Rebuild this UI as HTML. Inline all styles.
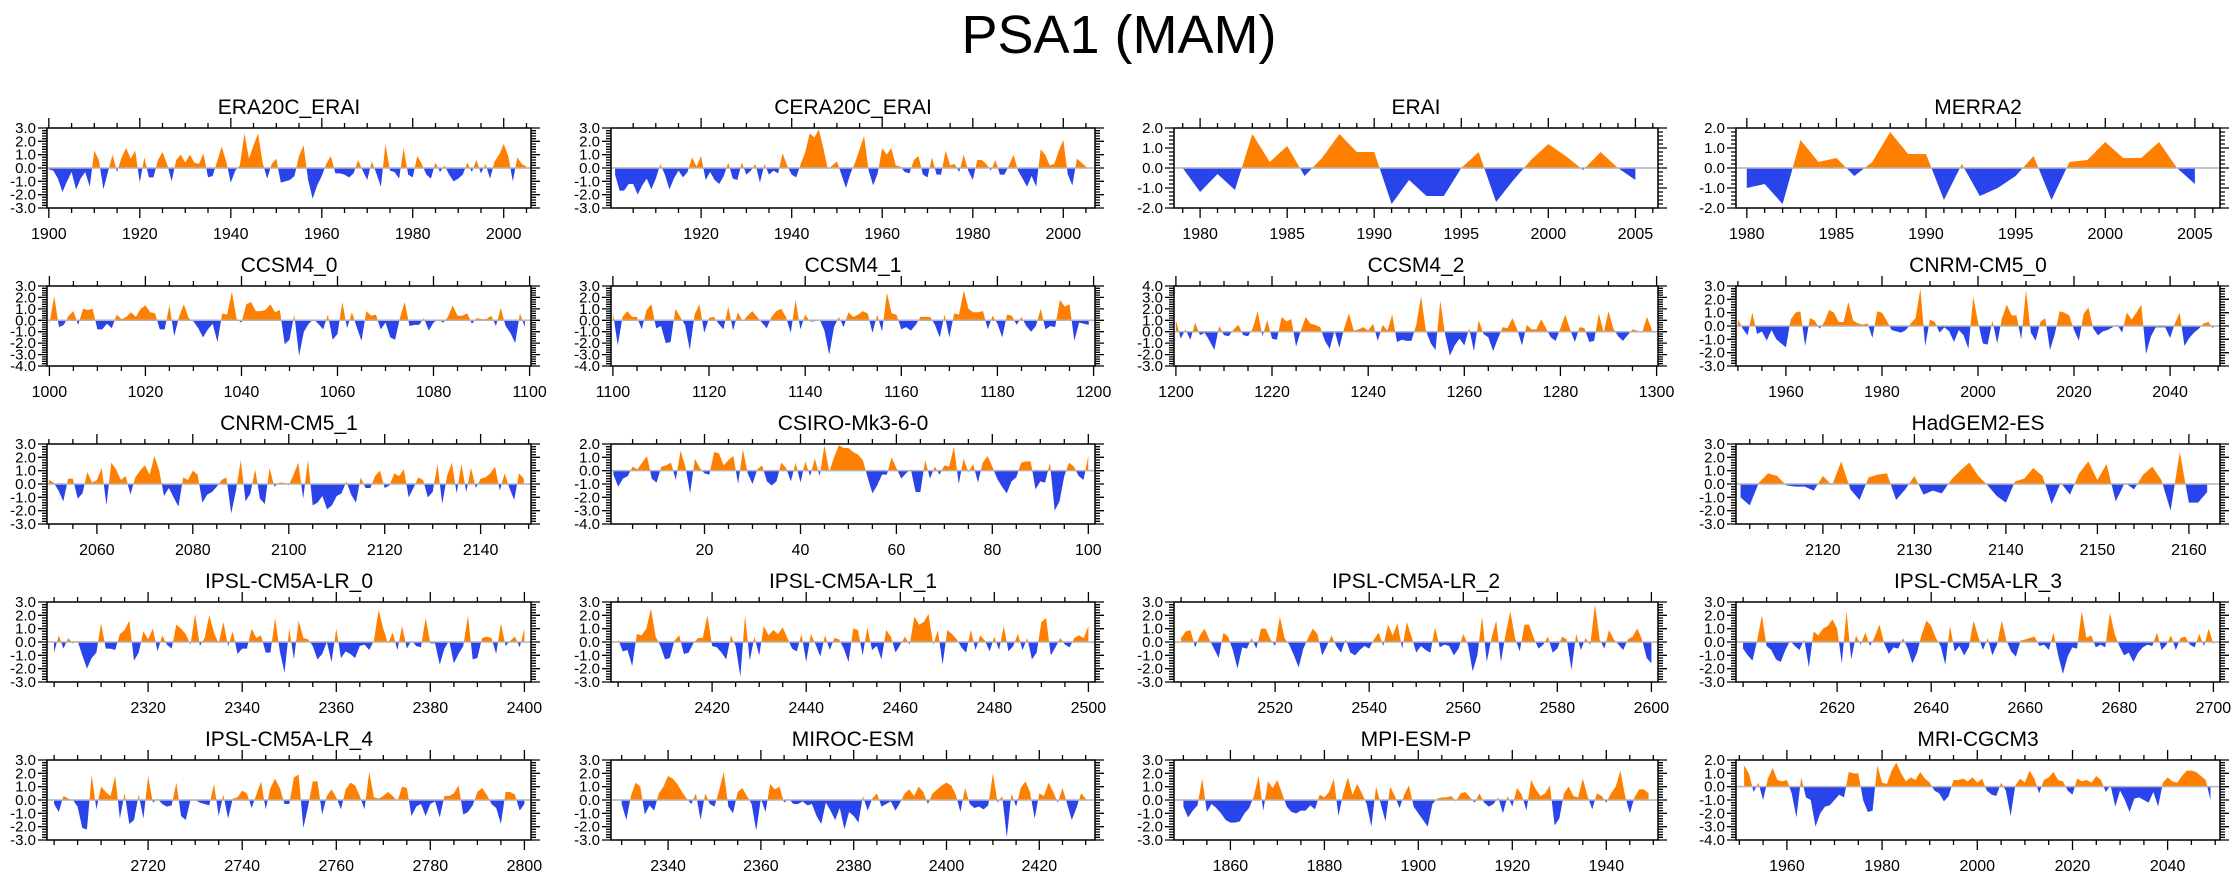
<!DOCTYPE html>
<html><head><meta charset="utf-8"><title>PSA1 (MAM)</title>
<style>
html,body{margin:0;padding:0;background:#fff;}
svg{display:block;font-family:"Liberation Sans",Arial,sans-serif;}
</style></head>
<body>
<svg id="chart" width="2238" height="877" viewBox="0 0 2238 877" xmlns="http://www.w3.org/2000/svg">
<rect width="2238" height="877" fill="#fff"/>
<text x="1119" y="53" font-size="54" text-anchor="middle" fill="#000">PSA1 (MAM)</text>
<g id="panels"></g>
</svg>
<script>
// ---- data (PSA1 index values per year) ----
const vERA20C=[-0.1,-0.2,-0.8,-1.8,-1.0,-0.3,-1.6,-0.8,-0.3,-1.4,1.3,0.6,-1.6,-0.3,1.0,-0.3,0.8,1.5,0.7,1.3,-1.1,0.8,-0.7,-0.7,0.6,1.2,0.3,-1.0,0.6,1.0,0.4,1.0,0.4,0.3,1.1,-0.7,-0.6,0.5,1.6,0.5,-1.1,-0.2,0.2,2.6,0.7,1.7,2.6,0.4,-0.8,0.3,0.7,-1.1,-1.0,-0.9,-0.6,0.9,1.7,-0.9,-2.3,-1.3,-0.6,0.3,0.9,-0.4,-0.4,-0.5,-0.7,-0.4,0.6,-0.2,-0.9,0.5,-0.4,-1.4,1.8,-0.2,-0.3,-0.8,1.5,-0.5,-0.7,0.9,0.3,-0.5,-0.8,0.4,-0.3,0.2,-0.5,-1.0,-0.8,-0.5,0.4,-0.3,0.6,-0.4,0.3,-0.8,0.5,1.0,1.8,0.9,-1.0,0.8,0.3,0.1];
const vCERA20C=[-0.5,-1.7,-1.7,-1.2,-1.2,-2.0,-1.3,-0.8,-1.6,-0.8,0.3,-0.5,-1.6,-0.8,-0.2,-0.7,-0.3,0.8,0.1,0.9,-0.9,-0.3,-0.9,-1.2,-0.6,0.4,-0.8,-0.9,0.4,-0.5,-0.2,0.3,-1.1,0.3,-0.5,-0.2,-0.4,1.1,0.2,-0.5,-0.7,0.3,1.2,2.6,2.3,2.9,1.5,-0.1,0.2,0.5,-0.5,-1.5,-0.4,0.4,1.4,2.4,-0.2,-1.3,-0.4,1.5,1.0,1.5,0.2,0.1,-0.3,-0.4,0.6,0.9,-0.5,-0.7,0.8,-0.5,-0.5,1.3,0.2,0.3,-0.3,1.0,-0.2,-0.9,0.6,0.6,0.3,-0.2,0.6,-0.5,-0.5,0.2,1.0,-0.2,-0.8,-1.4,-0.6,-1.4,1.4,1.0,0.2,0.3,1.3,2.1,-0.5,-1.3,0.7,0.4,0.1];
const vERAI=[0.0,-1.2,-0.3,-1.1,1.7,0.3,1.1,-0.4,0.5,1.7,0.8,0.8,-1.8,-0.6,-1.4,-1.4,0.0,0.8,-1.7,-0.6,0.4,1.2,0.6,-0.1,0.8,0.0,-0.6];
const vMERRA2=[-1.0,-0.8,-1.8,1.4,0.3,0.5,-0.4,0.3,1.8,0.7,0.7,-1.6,0.2,-1.4,-1.0,-0.4,0.6,-1.6,0.3,0.4,1.3,0.5,0.5,1.3,0.0,-0.8];
const vCCSM4_0=[-0.3,2.1,-0.6,-0.4,0.4,0.8,-0.4,1.0,0.9,1.0,-0.8,-0.8,-0.3,-0.7,0.5,0.1,0.3,0.7,0.3,1.0,1.3,0.7,0.6,-0.8,-0.8,1.3,-1.4,0.3,1.4,0.2,-0.1,-0.7,-1.5,-0.8,-0.3,-1.9,0.6,0.5,2.5,0.1,-0.2,1.4,1.6,0.8,0.8,0.9,1.4,0.7,0.9,-2.1,-1.7,0.5,-3.1,-1.0,-0.3,0.1,-0.3,-0.8,0.5,-1.7,-1.2,1.6,-0.7,0.7,-0.6,-1.8,0.8,0.4,0.5,-0.8,-0.2,-1.5,-1.7,0.2,1.6,-0.5,-0.4,-0.4,0.2,-0.9,-0.2,0.1,-0.2,0.3,1.3,0.4,0.4,0.6,-0.3,0.2,0.1,0.1,0.4,-0.5,1.1,-0.5,-1.1,-2.0,0.6,-0.6];
const vCCSM4_1=[0.7,-2.2,0.3,0.8,0.3,0.3,-0.8,0.9,1.4,-0.7,-0.5,-2.0,-1.9,1.0,0.3,-0.4,-2.6,0.5,1.4,-1.1,0.2,0.3,-0.3,-0.8,1.2,-0.9,0.7,-0.1,0.4,0.8,0.3,-0.2,-0.7,0.3,0.8,1.0,0.3,-1.1,1.8,-0.8,0.5,-0.1,-0.1,0.1,-0.9,-3.0,-0.6,0.3,-0.6,0.7,0.3,0.5,0.8,0.6,-1.1,0.5,-1.0,2.4,0.6,0.5,-0.8,-0.6,-0.9,-0.4,0.3,0.3,0.3,-0.4,-1.5,0.5,-1.5,0.6,0.5,2.6,1.0,0.7,0.7,0.8,-0.8,0.4,-0.3,-1.5,0.5,0.4,-0.4,0.3,-0.5,-1.0,-0.5,1.0,-0.8,-0.5,-0.6,1.8,1.2,1.4,-1.8,-0.2,-0.3,-0.4];
const vCCSM4_2=[1.0,-0.6,0.2,-0.7,0.8,-0.3,-0.1,-0.8,-1.6,0.5,-0.3,-0.4,0.2,0.6,-0.3,-0.4,0.3,1.8,-0.4,1.0,-0.6,-0.7,1.3,0.9,1.1,-1.3,0.1,1.3,0.7,0.6,0.4,-0.8,-1.5,0.1,-1.4,0.3,1.6,0.1,0.2,0.4,0.1,0.7,-0.8,0.6,0.1,1.5,-0.9,-0.7,-0.8,-0.8,0.6,3.1,0.1,-1.0,-1.6,2.7,-0.2,-2.1,-1.2,-0.6,-1.2,0.3,-1.7,1.0,-0.2,-0.5,-1.7,-0.6,0.4,0.3,1.2,0.2,-1.2,0.6,0.2,0.2,1.1,0.3,-0.5,-0.8,0.3,1.5,0.2,-0.9,0.4,0.3,-0.9,-0.8,1.6,-0.1,1.8,0.3,-0.4,-0.8,-0.3,0.2,0.1,-0.1,1.3,0.2];
const vCNRM0=[0.5,-0.2,-0.7,1.0,-0.6,-0.4,-1.1,-0.3,-1.0,-1.3,-1.6,0.5,1.0,1.1,-1.5,0.6,0.4,-0.2,0.3,1.2,1.0,0.3,0.3,1.8,0.4,0.2,0.1,0.2,-0.9,1.1,1.0,0.4,-0.3,-0.4,-0.5,-0.3,0.2,0.6,2.8,-1.5,0.5,0.3,-0.5,-0.1,-0.4,-1.2,-0.3,-0.7,-1.7,2.2,0.3,-1.3,-1.4,0.4,-1.3,0.6,1.6,0.8,0.8,-1.0,2.7,-0.5,-1.1,0.3,0.6,-1.8,-0.6,1.1,1.0,0.8,-0.3,-1.1,0.9,1.4,-0.2,-0.7,-0.4,-0.3,-0.1,0.1,-0.5,1.0,0.5,1.0,1.6,-2.1,-0.8,-0.1,-0.1,-0.1,-0.9,0.2,1.0,-1.5,-0.9,-0.5,-0.2,0.2,0.3,-0.2];
const vCNRM1=[0.3,0.1,-0.5,-1.3,0.4,0.4,-1.1,-0.7,0.9,0.1,0.3,1.2,-1.6,1.6,1.1,0.3,0.6,-0.8,0.5,1.0,1.4,0.7,2.1,1.0,-0.9,-0.3,-1.0,-1.7,0.5,0.3,1.0,0.7,-1.4,-0.8,-0.6,-0.2,0.3,0.5,-2.2,-0.5,1.8,-1.3,-0.7,1.1,-1.1,-1.5,1.2,-0.2,0.1,0.1,-0.1,0.7,1.6,-1.1,1.8,-1.6,-1.4,-0.9,-1.9,-1.6,-0.9,-0.7,0.2,-0.8,-1.4,0.5,-0.3,-0.3,0.6,1.0,-0.3,-0.1,0.8,0.6,1.1,-1.0,-0.3,0.5,0.3,-1.0,-0.6,1.5,-1.5,0.6,1.6,-0.7,1.5,-0.6,1.2,-0.3,0.4,0.5,0.8,1.3,-0.5,0.8,-0.3,-1.2,0.8,0.4];
const vCSIRO=[-0.3,-1.2,-0.6,-0.4,0.3,0.1,0.6,1.1,-0.6,-0.9,0.3,0.4,0.6,-0.7,1.5,0.3,-1.7,0.9,0.2,-0.2,-0.3,1.4,1.3,0.4,0.8,1.1,-1.0,1.6,-0.2,-1.0,0.1,0.4,-0.8,-1.1,-0.8,0.6,0.2,-0.8,0.6,-0.9,0.7,-0.4,0.9,-0.4,1.9,-0.1,1.0,1.9,1.7,1.7,1.4,1.2,0.8,-0.5,-1.7,-1.1,-0.3,-0.3,1.0,0.2,-0.6,-0.2,0.1,-1.6,-1.6,0.8,-0.6,0.3,-0.3,0.4,0.3,1.8,-1.0,0.9,-0.1,0.5,-0.9,0.6,1.1,0.3,-0.6,-1.2,-1.7,-0.8,-0.5,0.6,0.7,0.7,-1.4,-0.8,-0.9,0.6,-3.0,-2.3,-0.4,0.6,0.3,-0.4,-0.7,1.1];
const vHadGEM=[-1.0,-1.6,0.1,0.8,0.6,-0.1,-0.2,-0.2,-0.5,0.6,-0.1,1.7,-0.4,-1.2,0.5,0.7,0.8,-1.2,-0.4,0.6,-0.8,-0.5,-0.7,0.3,1.0,1.6,0.6,-0.1,-0.9,-1.4,0.2,0.4,1.2,0.6,-1.5,0.1,-0.8,0.8,1.7,0.3,1.5,-1.3,0.1,-0.4,0.7,1.3,0.3,-2.0,2.4,-1.4,-1.4,-0.6];
const vIPSL0=[-0.8,0.5,-0.5,0.3,-0.1,0.1,-1.0,-2.0,-1.2,-0.8,1.4,-0.5,-0.5,-0.6,0.6,0.9,1.6,-1.4,-0.8,0.8,0.2,1.0,-0.7,0.5,-0.2,-0.5,1.3,1.0,0.6,-0.2,2.1,-0.3,0.3,2.0,0.7,-0.1,1.5,-0.3,0.8,-0.9,-0.5,-0.5,1.0,0.3,0.5,-0.8,-0.8,1.8,-0.7,-2.3,1.0,-1.3,1.6,0.3,0.2,-0.3,-1.3,-0.9,0.0,-1.5,1.0,-1.2,-0.7,-0.9,-1.2,-0.3,-0.2,-0.6,0.1,2.4,1.0,-0.1,0.7,-0.6,1.2,-0.5,0.1,-0.3,-0.4,1.8,-0.1,-0.1,-1.7,-0.5,0.1,-1.6,-0.9,-0.3,2.0,-1.3,-1.2,0.3,0.4,0.3,-0.9,1.4,-0.3,0.1,0.4,-0.4,1.0];
const vIPSL1=[0.2,-0.7,-0.6,-1.8,0.6,0.5,1.0,2.5,0.4,-0.3,-1.3,-1.2,0.1,0.5,-0.9,-0.8,-0.1,0.3,0.3,2.0,-0.3,-0.4,-0.8,-1.3,0.5,-0.3,-2.6,2.0,-1.4,0.4,-1.0,1.2,0.5,0.9,0.6,1.1,0.3,-0.5,-0.7,0.6,-1.5,0.6,-0.2,-1.1,0.5,-0.6,0.3,0.2,-0.5,-1.5,1.0,0.9,-1.0,1.1,-0.6,-0.3,-1.3,0.9,0.4,-0.8,-0.2,0.4,-0.2,1.9,1.3,1.5,2.1,-0.2,0.9,-1.7,0.9,0.6,0.2,-0.4,-0.8,0.9,-0.6,0.5,0.1,-0.7,0.4,-0.6,1.2,-0.7,-0.3,0.6,-0.6,0.3,-1.3,-0.8,1.5,1.8,-1.0,-0.4,0.3,-0.2,-0.4,0.3,0.5,0.3,1.2];
const vIPSL2=[0.3,0.8,0.9,-0.4,0.5,1.0,0.2,-0.5,-1.2,0.7,0.4,-0.6,-2.0,-0.4,-0.5,0.3,-0.5,1.0,1.0,0.2,-0.3,1.9,0.3,-0.2,-1.0,-1.9,-0.5,0.3,1.0,0.6,-1.0,-0.3,0.5,-0.3,-0.8,0.2,-0.8,-1.0,-0.6,-0.3,-0.5,0.2,0.7,-0.3,1.3,0.5,1.4,-0.5,1.5,0.4,-0.8,-0.3,-0.6,-0.8,1.1,-0.4,-0.2,-0.3,-1.0,-0.5,0.6,-0.2,-2.2,-1.0,1.9,-1.5,0.3,1.6,-1.5,0.6,2.3,0.3,-0.7,1.3,1.3,0.3,-0.5,-0.2,0.4,-0.8,-0.5,0.4,0.2,-2.1,0.6,-0.6,0.3,-0.2,2.8,0.2,-0.5,0.9,0.2,-0.2,-0.6,0.2,0.4,1.0,0.2,-1.2,-1.6];
const vIPSL3=[-0.5,-1.0,-1.4,0.1,2.0,-0.3,-0.6,-1.3,-1.5,-0.6,0.1,-0.3,-0.6,0.2,-1.9,0.8,0.5,1.0,1.2,1.7,1.0,-1.6,2.3,-1.3,0.5,-0.2,0.7,-0.3,0.4,1.3,-0.1,-0.9,-0.4,-0.5,0.3,-0.5,-1.6,-0.8,0.6,1.6,1.2,0.3,-0.3,-1.7,1.2,-0.7,-0.3,-1.0,-0.4,1.6,0.4,-0.6,0.3,-1.0,-0.2,1.6,0.1,-0.7,-1.1,0.1,0.2,0.3,0.4,-0.3,-0.2,-0.6,0.7,-1.0,-2.4,-1.1,-0.4,-0.5,2.3,0.3,0.5,-0.4,-0.2,-0.4,2.2,0.6,-0.3,-1.0,-0.8,-1.5,-0.8,-0.4,-0.2,-0.3,0.7,-0.6,-0.2,0.5,-0.6,0.3,0.4,-0.2,-0.4,0.6,-0.3,1.0,-0.2];
const vIPSL4=[-0.3,-0.9,0.3,0.1,0.0,-0.5,-2.1,-2.2,1.9,-0.7,1.0,0.6,0.3,1.8,-1.4,0.5,-1.8,-1.5,0.4,-1.4,1.8,-0.2,0.1,-0.3,-0.5,-0.4,1.3,-1.2,-1.5,0.0,0.0,-0.2,-0.3,-0.4,1.2,-1.2,0.4,-1.4,0.1,0.2,0.7,0.5,-0.6,0.4,1.4,-0.7,0.9,1.6,0.9,-0.3,-0.3,1.7,1.9,-2.1,-0.5,1.4,1.4,-1.1,0.3,0.8,0.2,-0.7,0.8,1.3,1.1,0.3,-0.7,2.1,0.2,0.1,0.3,0.6,0.3,-0.1,1.0,0.9,-1.2,-0.5,-0.3,-1.2,-0.3,-0.1,-1.3,0.3,0.3,0.5,1.1,-1.1,-0.9,-0.4,0.6,0.9,0.4,-0.3,-0.6,-1.8,0.6,0.6,0.4,-0.8,-0.3];
const vMIROC=[-0.3,-1.5,0.3,1.3,1.0,-1.1,-0.4,-0.8,0.5,1.0,1.8,1.6,1.2,0.6,0.1,-0.3,0.5,-1.5,0.5,-0.3,-0.5,0.7,2.1,-0.5,-1.0,0.6,0.9,0.3,-0.3,-2.3,0.1,-0.9,1.2,0.8,1.0,-0.2,0.1,-0.3,-0.3,-0.1,-0.4,-0.3,-1.2,-1.8,-0.2,-0.8,-1.5,-0.6,-2.2,-0.9,-1.2,-1.7,0.3,-0.8,0.1,0.5,-0.5,-0.3,-0.1,-0.8,-0.2,0.5,0.8,0.3,1.0,0.6,-0.3,0.5,0.8,1.1,1.3,1.1,0.4,-0.9,0.9,-0.3,-0.6,-0.5,-0.7,-0.4,2.0,-0.2,0.3,-2.8,0.5,-0.5,0.9,1.4,0.6,-1.4,0.5,0.3,1.3,0.6,-0.2,0.9,-0.3,-1.5,-0.6,0.5,0.1];
const vMPI=[-0.5,-1.3,-0.8,-0.4,1.6,-0.9,-0.3,-0.6,-1.0,-1.5,-1.7,-1.7,-1.6,-1.0,-0.6,0.3,1.8,-0.8,1.4,0.9,1.5,0.5,-0.5,-0.9,-1.0,-0.8,-0.8,-0.4,-0.7,0.4,0.2,0.6,1.6,-1.2,0.5,1.7,0.4,1.2,0.5,-0.3,-2.0,1.0,-0.3,-1.6,1.0,0.3,-0.6,0.4,1.1,-0.5,-1.0,-1.5,-2.0,-0.3,0.1,0.2,0.2,0.3,-0.1,0.5,0.6,0.2,-0.2,0.5,-0.2,-0.5,-0.3,0.2,-1.0,0.3,-0.5,0.9,0.4,-0.8,1.5,0.8,0.3,0.5,1.1,-1.9,-1.4,0.5,1.0,0.3,0.2,1.6,0.3,-0.7,0.5,0.3,-0.2,0.5,1.0,2.2,0.3,-1.0,0.2,0.8,0.8,0.5];
const vMRI=[1.6,1.0,-0.4,0.3,-1.0,0.6,1.4,0.5,0.4,0.5,-0.5,-2.3,0.7,-0.8,-1.0,-3.0,-2.0,-1.5,-1.4,-1.0,-0.6,-0.8,1.1,1.0,1.0,-1.0,-1.9,-1.8,1.6,0.3,0.2,1.2,1.8,1.0,0.4,0.7,0.5,1.1,0.6,0.3,-0.3,-0.5,-1.1,-0.7,0.5,0.5,0.6,0.4,0.7,0.3,0.6,-0.3,-0.6,-0.7,0.3,-0.3,-2.2,0.1,0.6,0.3,1.2,0.6,-0.5,0.5,0.7,1.1,0.5,0.4,-0.3,-0.6,0.6,0.4,0.5,0.3,0.8,0.5,-0.4,0.1,-1.5,-0.3,-1.0,-1.9,-0.9,-0.8,-1.0,-1.2,-0.4,-1.5,0.3,0.7,0.4,0.3,0.8,1.2,1.2,1.1,0.8,0.5,-1.0];

// tick label arrays
const tk20a=[1900,1920,1940,1960,1980,2000];
const tk20b=[1920,1940,1960,1980,2000];
const tk5=[1980,1985,1990,1995,2000,2005];

const panels=[
 {id:'era20c-erai',title:'ERA20C_ERAI',c:0,r:0,x0:1899.6,x1:2006,y0:-3,y1:3,start:1900,v:vERA20C,lab:tk20a,mn:5},
 {id:'cera20c-erai',title:'CERA20C_ERAI',c:1,r:0,x0:1900.1,x1:2007,y0:-3,y1:3,start:1901,v:vCERA20C,lab:tk20b,mn:5},
 {id:'erai',title:'ERAI',c:2,r:0,x0:1978.5,x1:2006.3,y0:-2,y1:2,start:1979,v:vERAI,lab:tk5,mn:1},
 {id:'merra2',title:'MERRA2',c:3,r:0,x0:1979.4,x1:2006.4,y0:-2,y1:2,start:1980,v:vMERRA2,lab:tk5,mn:1},
 {id:'ccsm4-0',title:'CCSM4_0',c:0,r:1,x0:999.5,x1:1100.3,y0:-4,y1:3,start:1000,v:vCCSM4_0,lab:[1000,1020,1040,1060,1080,1100],mn:5},
 {id:'ccsm4-1',title:'CCSM4_1',c:1,r:1,x0:1099.6,x1:1200.3,y0:-4,y1:3,start:1100,v:vCCSM4_1,lab:[1100,1120,1140,1160,1180,1200],mn:5},
 {id:'ccsm4-2',title:'CCSM4_2',c:2,r:1,x0:1199.6,x1:1300.3,y0:-3,y1:4,start:1200,v:vCCSM4_2,lab:[1200,1220,1240,1260,1280,1300],mn:5},
 {id:'cnrm-cm5-0',title:'CNRM-CM5_0',c:3,r:1,x0:1949.6,x1:2050.4,y0:-3,y1:3,start:1950,v:vCNRM0,lab:[1960,1980,2000,2020,2040],mn:5},
 {id:'cnrm-cm5-1',title:'CNRM-CM5_1',c:0,r:2,x0:2049.6,x1:2150.5,y0:-3,y1:3,start:2050,v:vCNRM1,lab:[2060,2080,2100,2120,2140],mn:5},
 {id:'csiro-mk3-6-0',title:'CSIRO-Mk3-6-0',c:1,r:2,x0:0.5,x1:101.4,y0:-4,y1:2,start:1,v:vCSIRO,lab:[20,40,60,80,100],mn:5},
 {id:'hadgem2-es',title:'HadGEM2-ES',c:3,r:2,x0:2110.5,x1:2163.4,y0:-3,y1:3,start:2111,v:vHadGEM,lab:[2120,2130,2140,2150,2160],mn:2},
 {id:'ipsl-cm5a-lr-0',title:'IPSL-CM5A-LR_0',c:0,r:3,x0:2298.5,x1:2401.4,y0:-3,y1:3,start:2300,v:vIPSL0,lab:[2320,2340,2360,2380,2400],mn:5},
 {id:'ipsl-cm5a-lr-1',title:'IPSL-CM5A-LR_1',c:1,r:3,x0:2398.5,x1:2501.4,y0:-3,y1:3,start:2400,v:vIPSL1,lab:[2420,2440,2460,2480,2500],mn:5},
 {id:'ipsl-cm5a-lr-2',title:'IPSL-CM5A-LR_2',c:2,r:3,x0:2498.5,x1:2601.4,y0:-3,y1:3,start:2500,v:vIPSL2,lab:[2520,2540,2560,2580,2600],mn:5},
 {id:'ipsl-cm5a-lr-3',title:'IPSL-CM5A-LR_3',c:3,r:3,x0:2598.5,x1:2701.4,y0:-3,y1:3,start:2600,v:vIPSL3,lab:[2620,2640,2660,2680,2700],mn:5},
 {id:'ipsl-cm5a-lr-4',title:'IPSL-CM5A-LR_4',c:0,r:4,x0:2698.5,x1:2801.4,y0:-3,y1:3,start:2700,v:vIPSL4,lab:[2720,2740,2760,2780,2800],mn:5},
 {id:'miroc-esm',title:'MIROC-ESM',c:1,r:4,x0:2327.7,x1:2432,y0:-3,y1:3,start:2330,v:vMIROC,lab:[2340,2360,2380,2400,2420],mn:5},
 {id:'mpi-esm-p',title:'MPI-ESM-P',c:2,r:4,x0:1848,x1:1951,y0:-3,y1:3,start:1850,v:vMPI,lab:[1860,1880,1900,1920,1940],mn:5},
 {id:'mri-cgcm3',title:'MRI-CGCM3',c:3,r:4,x0:1949.3,x1:2051,y0:-4,y1:2,start:1951,v:vMRI,lab:[1960,1980,2000,2020,2040],mn:5}
];

const colX=[47,611,1174,1736], rowY=[128,286,444,602,760], PW=484, PH=80;
const NS='http://www.w3.org/2000/svg';
const root=document.getElementById('panels');
function mk(tag,attrs,parent){const e=document.createElementNS(NS,tag);for(const k in attrs)e.setAttribute(k,attrs[k]);(parent||root).appendChild(e);return e;}

panels.forEach((p,pi)=>{
  const L=colX[p.c], T=rowY[p.r], R=L+PW, B=T+PH;
  const sx=x=>L+(x-p.x0)/(p.x1-p.x0)*PW;
  const sy=y=>T+(p.y1-y)/(p.y1-p.y0)*PH;
  const g=mk('g',{});
  
  
  const t=mk('text',{x:(L+R)/2,y:T-14,'font-size':21,'text-anchor':'middle',fill:'#000'},g);
  t.textContent=p.title;
  
  
  const defs=mk('defs',{},g);
  const z=sy(0);
  const cu=mk('clipPath',{id:'cu'+pi},defs); mk('rect',{x:L,y:T,width:PW,height:z-T},cu);
  const cd=mk('clipPath',{id:'cd'+pi},defs); mk('rect',{x:L,y:z,width:PW,height:B-z},cd);
  let d='M'+sx(p.start).toFixed(2)+','+z.toFixed(2);
  p.v.forEach((val,i)=>{d+=' L'+sx(p.start+i).toFixed(2)+','+sy(val).toFixed(2);});
  d+=' L'+sx(p.start+p.v.length-1).toFixed(2)+','+z.toFixed(2)+' Z';
  const up=mk('path',{d:d,fill:'#ff8000','clip-path':'url(#cu'+pi+')'},g);
  
  
  const dn=mk('path',{d:d,fill:'#2a44ec','clip-path':'url(#cd'+pi+')'},g);
  
  
  const zl=mk('line',{x1:L,x2:R,y1:z,y2:z,stroke:'#b4b4b4','stroke-width':1.5},g);
  
  
  const fr=mk('rect',{x:L,y:T,width:PW,height:PH,fill:'none',stroke:'#000','stroke-width':1.5},g);
  
  
  let tp='';
  const first=Math.ceil(p.x0/p.mn)*p.mn;
  for(let x=first;x<=p.x1;x+=p.mn){
    const X=sx(x).toFixed(1); const major=p.lab.indexOf(x)>=0; const len=major?10:5;
    tp+='M'+X+','+T+' v'+(-len)+' M'+X+','+B+' v'+len+' ';
  }
  for(let k=Math.round(p.y0*5);k<=Math.round(p.y1*5);k++){
    const Y=sy(k/5).toFixed(1); const major=(k%5===0); const len=major?9:5;
    tp+='M'+L+','+Y+' h'+(-len)+' M'+R+','+Y+' h'+len+' ';
  }
  const ticks=mk('path',{d:tp,stroke:'#000','stroke-width':1.3,fill:'none'},g);
  
  
  p.lab.forEach(x=>{
    const tl=mk('text',{x:sx(x),y:B+31,'font-size':16,'text-anchor':'middle',fill:'#000'},g);
    tl.textContent=x;
    
    
  });
  for(let y=p.y0;y<=p.y1;y++){
    const yl=mk('text',{x:L-11,y:sy(y)+5,'font-size':15,'text-anchor':'end',fill:'#000'},g);
    yl.textContent=y.toFixed(1);
    
    
  }
});
</script>
</body></html>
